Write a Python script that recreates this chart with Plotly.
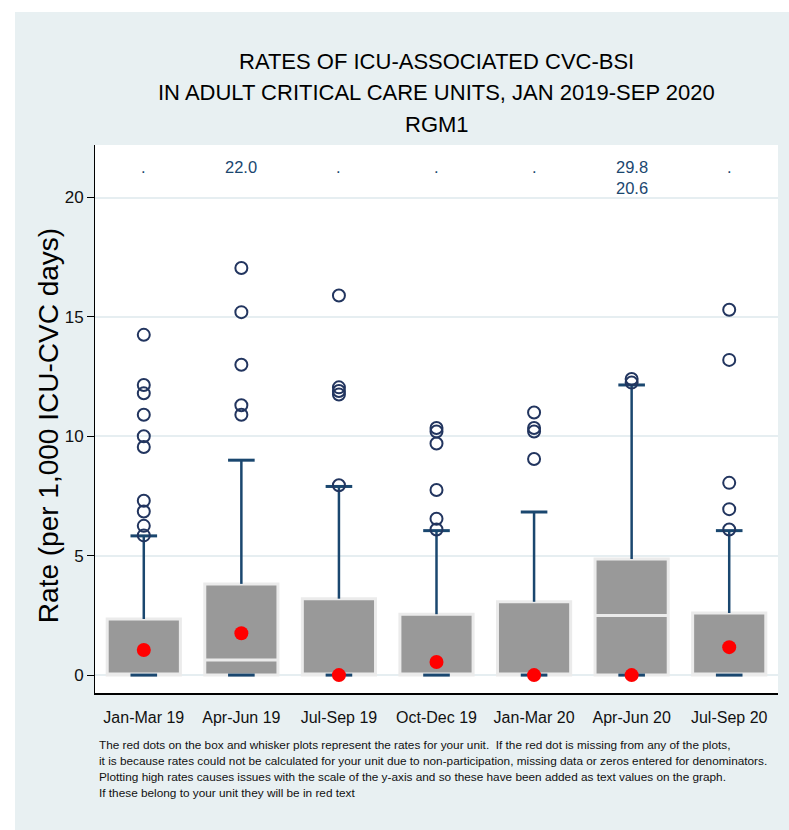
import plotly.graph_objects as go

# Quarterly CVC-BSI rates (per 1,000 ICU-CVC days) across adult critical care units
periods = ["Jan-Mar 19", "Apr-Jun 19", "Jul-Sep 19", "Oct-Dec 19",
           "Jan-Mar 20", "Apr-Jun 20", "Jul-Sep 20"]
q1 = [0, 0, 0, 0, 0, 0, 0]
median = [0, 0.63, 0, 0, 0, 2.5, 0]
q3 = [2.35, 3.82, 3.2, 2.55, 3.07, 4.86, 2.6]
lower_whisker = [0, 0, 0, 0, 0, 0, 0]
upper_whisker = [5.83, 9.0, 7.9, 6.05, 6.83, 12.15, 6.05]
outliers = [
    [14.25, 12.15, 11.8, 10.9, 10.0, 9.55, 7.3, 6.85, 6.25, 5.85],
    [17.05, 15.2, 13.0, 11.3, 10.9],
    [15.9, 12.05, 11.9, 11.75, 7.95],
    [10.35, 10.2, 9.7, 7.75, 6.55, 6.1],
    [11.0, 10.35, 10.2, 9.05],
    [12.4, 12.25],
    [15.3, 13.2, 8.05, 6.95, 6.1],
]
unit_rate = [1.05, 1.75, 0, 0.55, 0, 0, 1.17]
# rates above the axis range, listed as text at the top of the plot
high_rates = [[], [22.0], [], [], [], [29.8, 20.6], []]

y_ticks = [0, 5, 10, 15, 20]

NAVY = "#1a476f"
CIRCLE = "#22355f"
FONT = "Liberation Sans, Arial, sans-serif"
BG = "#e8f0f2"

fig = go.Figure()

# boxes (interquartile range with median)
fig.add_trace(go.Box(
    x=periods, q1=q1, median=median, q3=q3,
    lowerfence=q1, upperfence=q3,
    width=0.75, whiskerwidth=0,
    fillcolor="#999999",
    line=dict(color="#ebebeb", width=3),
    boxpoints=False, hoverinfo="skip", showlegend=False,
))

# whiskers
wx, wy = [], []
for p, top, hi in zip(periods, q3, upper_whisker):
    wx += [p, p, None]
    wy += [top, hi, None]
fig.add_trace(go.Scatter(
    x=wx, y=wy, mode="lines",
    line=dict(color=NAVY, width=2.5),
    hoverinfo="skip", showlegend=False,
))

# whisker caps
fig.add_trace(go.Scatter(
    x=periods + periods, y=lower_whisker + upper_whisker, mode="markers",
    marker=dict(symbol="line-ew", size=19, color=NAVY,
                line=dict(color=NAVY, width=3)),
    hoverinfo="skip", showlegend=False,
))

# outside values
ox, oy = [], []
for p, vals in zip(periods, outliers):
    ox += [p] * len(vals)
    oy += vals
fig.add_trace(go.Scatter(
    x=ox, y=oy, mode="markers",
    marker=dict(symbol="circle-open", size=12, color=CIRCLE,
                line=dict(color=CIRCLE, width=2)),
    hoverinfo="skip", showlegend=False,
))

# the unit's own rates
fig.add_trace(go.Scatter(
    x=periods, y=unit_rate, mode="markers",
    marker=dict(symbol="circle", size=14, color="#ff0000"),
    hoverinfo="skip", showlegend=False,
))

annotations = []
for p, vals in zip(periods, high_rates):
    txt = "<br>".join(f"{v:.1f}" for v in vals) if vals else "."
    annotations.append(dict(
        x=p, y=21.75, xref="x", yref="y", text=txt, showarrow=False,
        yanchor="top", xanchor="center",
        font=dict(family=FONT, size=16.5, color=NAVY),
    ))

title_lines = ["RATES OF ICU-ASSOCIATED CVC-BSI",
               "IN ADULT CRITICAL CARE UNITS, JAN 2019-SEP 2020",
               "RGM1"]
for line, yy in zip(title_lines, [1.1515, 1.0949, 1.0365]):
    annotations.append(dict(
        x=0.5, y=yy, xref="paper", yref="paper", text=line, showarrow=False,
        xanchor="center", yanchor="middle",
        font=dict(family=FONT, size=22, color="#000000"),
    ))

annotations.append(dict(
    x=-0.0688, y=0.487, xref="paper", yref="paper",
    text="Rate (per 1,000 ICU-CVC days)", showarrow=False, textangle=-90,
    xanchor="center", yanchor="middle",
    font=dict(family=FONT, size=28, color="#000000"),
))

footer = [
    "The red dots on the box and whisker plots represent the rates for your unit.  If the red dot is missing from any of the plots,",
    "it is because rates could not be calculated for your unit due to non-participation, missing data or zeros entered for denominators.",
    "Plotting high rates causes issues with the scale of the y-axis and so these have been added as text values on the graph.",
    "If these belong to your unit they will be in red text",
]
for line, yy in zip(footer, [-0.0949, -0.124, -0.153, -0.182]):
    annotations.append(dict(
        x=0.003, y=yy, xref="paper", yref="paper", text=line, showarrow=False,
        xanchor="left", yanchor="middle",
        font=dict(family=FONT, size=11.8, color="#111111"),
    ))

shapes = [
    # graph region background
    dict(type="rect", xref="paper", yref="paper",
         x0=(15 - 95) / 683, x1=(800 - 95) / 683,
         y0=(693 - 840) / 548, y1=(693 - 12) / 548,
         fillcolor=BG, line=dict(width=0), layer="below"),
    # plot region
    dict(type="rect", xref="paper", yref="paper", x0=0, x1=1, y0=0, y1=1,
         fillcolor="#ffffff", line=dict(width=0), layer="below"),
]

fig.update_layout(
    width=789, height=830,
    margin=dict(l=95, r=11, t=145, b=137),
    paper_bgcolor="#ffffff",
    plot_bgcolor="rgba(0,0,0,0)",
    showlegend=False,
    annotations=annotations,
    shapes=shapes,
    xaxis=dict(
        type="category", categoryorder="array", categoryarray=periods,
        range=[-0.5, 6.5],
        showgrid=False, showline=True, linecolor="#000000", linewidth=1.5,
        ticks="", ticklabelstandoff=9,
        tickfont=dict(family=FONT, size=16, color="#111111"),
    ),
    yaxis=dict(
        range=[-0.75, 22.2], tickvals=y_ticks,
        showgrid=True, gridcolor="#e6eef1", gridwidth=2,
        zeroline=False,
        showline=True, linecolor="#000000", linewidth=1,
        ticks="outside", ticklen=7, tickcolor="#000000",
        tickfont=dict(family=FONT, size=17, color="#111111"),
    ),
)

fig.write_html("out.html")
